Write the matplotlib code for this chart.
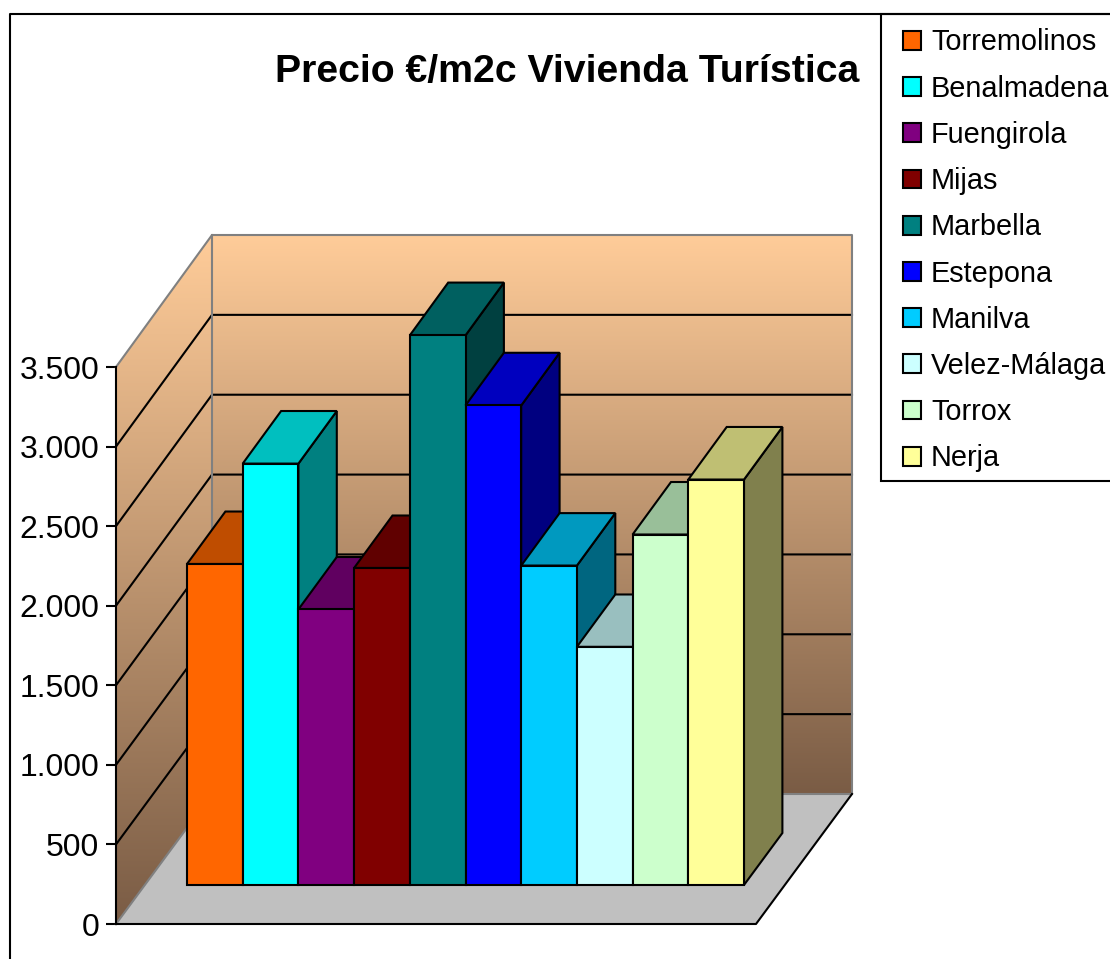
import numpy as np
import matplotlib
matplotlib.use("Agg")
import matplotlib.pyplot as plt
from matplotlib.patches import Polygon, Patch, Rectangle
from matplotlib.colors import LinearSegmentedColormap, to_rgb

# ---- data ----
categories = ["Torremolinos", "Benalmadena", "Fuengirola", "Mijas", "Marbella",
              "Estepona", "Manilva", "Velez-Málaga", "Torrox", "Nerja"]
values = [2015, 2645, 1730, 1990, 3450, 3010, 2005, 1495, 2200, 2545]
colors = ["#FF6600", "#00FFFF", "#800080", "#800000", "#008080",
          "#0000FF", "#00CCFF", "#CCFFFF", "#CCFFCC", "#FFFF99"]
yticks = [0, 500, 1000, 1500, 2000, 2500, 3000, 3500]
yticklabels = ["0", "500", "1.000", "1.500", "2.000", "2.500", "3.000", "3.500"]
title = "Precio €/m2c Vivienda Turística"

W, H = 1110, 959
FONT = "Liberation Sans"
plt.rcParams["font.family"] = FONT

fig = plt.figure(figsize=(W / 100, H / 100), dpi=100)
fig.patch.set_facecolor("white")

# front plane of the 3D box, in pixels
L, R, B, T = 116, 756, 924, 367
ax = fig.add_axes([L / W, 1 - B / H, (R - L) / W, (B - T) / H])
ax.patch.set_visible(False)

cat_px = 55.7
xmax = (R - L) / cat_px
ymax = 3500
px_per_val = (B - T) / ymax
DX = 96 / cat_px            # total depth shift, x in category units
DY = 130 / px_per_val       # total depth shift, y in value units
K = 2 / (B - T)             # slight growth of the value scale towards the back
x_start = (187 - L) / cat_px - 0.3 * DX
D_FRONT, D_BACK = 0.3, 0.7


def proj(x, v, d):
    return (x + d * DX, v * (1 + d * K) + d * DY)


GRAY = "#808080"
cmap = LinearSegmentedColormap.from_list("wall", ["#FFCC99", "#7A5C45"])
grad = np.linspace(0, 1, 256).reshape(-1, 1)

# walls
back_poly = [proj(0, 0, 1), proj(xmax, 0, 1), proj(xmax, ymax, 1), proj(0, ymax, 1)]
side_poly = [proj(0, 0, 0), proj(0, 0, 1), proj(0, ymax, 1), proj(0, ymax, 0)]
for poly in (back_poly, side_poly):
    p = Polygon(poly, closed=True, fc="none", ec="none", transform=ax.transData)
    ax.add_patch(p)
    xs, ys = zip(*poly)
    im = ax.imshow(grad, cmap=cmap, aspect="auto", origin="upper",
                   extent=(min(xs), max(xs), min(ys), max(ys)), zorder=1,
                   interpolation="bilinear")
    im.set_clip_box(fig.bbox)
    im.set_clip_path(p)

ax.set_xlim(0, xmax)
ax.set_ylim(0, ymax)

# floor
ax.add_patch(Polygon([proj(0, 0, 0), proj(xmax, 0, 0), proj(xmax, 0, 1), proj(0, 0, 1)],
                     closed=True, fc="#C0C0C0", ec="none", zorder=2, clip_on=False))

# grid lines
for v in yticks[1:-1]:
    x0, y0 = proj(0, v, 0)
    x1, y1 = proj(0, v, 1)
    x2, y2 = proj(xmax, v, 1)
    ax.plot([x0, x1, x2], [y0, y1, y2], color="black", lw=1.5, zorder=3,
            clip_on=False, solid_joinstyle="miter")

# wall outlines
ol = dict(color=GRAY, lw=1.5, zorder=3.5, clip_on=False)
pts = [proj(0, ymax, 0), proj(0, ymax, 1), proj(xmax, ymax, 1), proj(xmax, 0, 1), proj(0, 0, 1), proj(0, 0, 0)]
ax.plot(*zip(*pts), **ol)
ax.plot(*zip(proj(0, 0, 1), proj(0, ymax, 1)), **ol)
# floor front and right edges
pts = [proj(0, 0, 0), proj(xmax, 0, 0), proj(xmax, 0, 1)]
ax.plot(*zip(*pts), color="black", lw=1.5, zorder=3.6, clip_on=False)


def shade(c, k):
    return tuple(k * ch for ch in to_rgb(c))


# bars, left to right
for i, (v, c) in enumerate(zip(values, colors)):
    x0 = x_start + i
    x1 = x0 + 1
    kw = dict(closed=True, ec="black", lw=1.5, joinstyle="miter", clip_on=False, zorder=4 + i * 0.1)
    ax.add_patch(Polygon([proj(x1, 0, D_FRONT), proj(x1, 0, D_BACK), proj(x1, v, D_BACK), proj(x1, v, D_FRONT)],
                         fc=shade(c, 0.5), **kw))
    ax.add_patch(Polygon([proj(x0, v, D_FRONT), proj(x1, v, D_FRONT), proj(x1, v, D_BACK), proj(x0, v, D_BACK)],
                         fc=shade(c, 0.75), **kw))
    ax.add_patch(Polygon([proj(x0, 0, D_FRONT), proj(x1, 0, D_FRONT), proj(x1, v, D_FRONT), proj(x0, v, D_FRONT)],
                         fc=c, **kw))

# axes furniture
for s in ("top", "right", "bottom"):
    ax.spines[s].set_visible(False)
ax.spines["left"].set_linewidth(1.5)
ax.spines["left"].set_zorder(3.7)
ax.set_xticks([])
ax.set_yticks(yticks)
ax.set_yticklabels(yticklabels, fontsize=23, fontfamily=FONT)
ax.tick_params(axis="y", length=7.2, width=1.5, pad=5)

# title
fig.text(567 / W, 1 - 72 / H, title, fontsize=28.3, fontweight="bold", ha="center", va="center")

# chart frame
fig.add_artist(plt.Line2D([10 / W, 10 / W, 1], [0, 1 - 14 / H, 1 - 14 / H],
                          color="black", lw=1.5, transform=fig.transFigure))

# legend box and legend
fig.add_artist(Rectangle((881 / W, 1 - 481 / H), 240 / W, (481 - 14) / H, transform=fig.transFigure,
                         fc="white", ec="black", lw=1.5))
handles = [Patch(facecolor=c, edgecolor="black", linewidth=1.5) for c in colors]
leg = fig.legend(handles, categories, loc="upper left", bbox_to_anchor=(903 / W, 1 - 28.5 / H),
                 borderaxespad=0, fontsize=20.8, frameon=False, borderpad=0, labelspacing=0.63,
                 handlelength=0.623, handleheight=0.623, handletextpad=0.35)
leg.set_zorder(5)

fig.savefig("out.png", dpi=100, facecolor="white")
